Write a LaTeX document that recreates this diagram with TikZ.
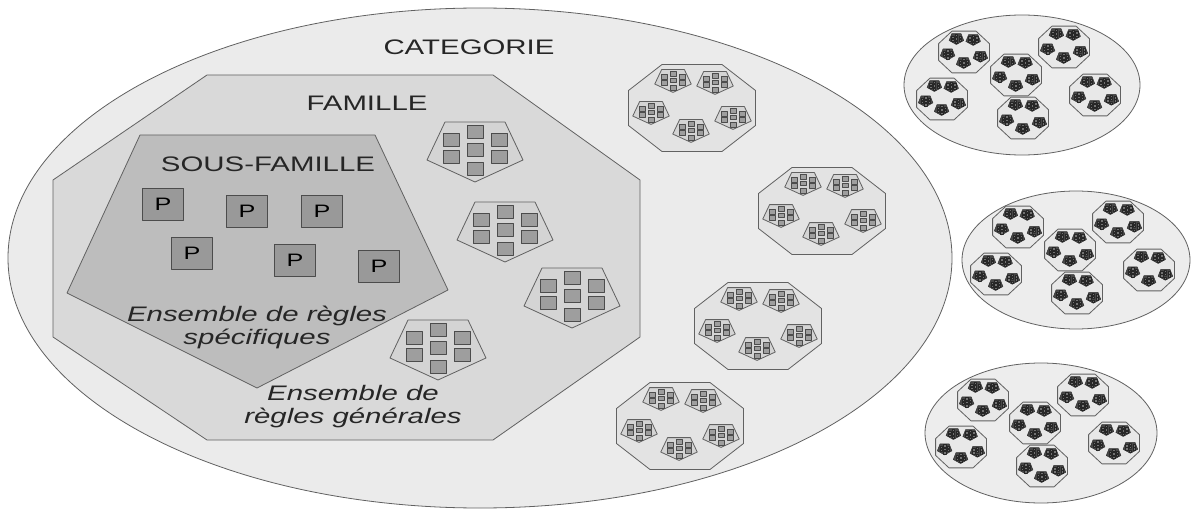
\documentclass[tikz,border=0pt]{standalone}
\usepackage{fontspec}
\setmainfont{Liberation Sans}[FakeStretch=1.4]

\tikzset{
    pics/regles/.style={code={
        \draw[regles fill] (-30,-30) -- (30,-30) -- (48,8) -- (0,30) -- (-48,8) -- cycle;
        \foreach \sx/\sy in {0/-20, -24/-12, 24/-12, 0/-2, -24/5, 24/5, 0/17}
            \draw[carre fill] (\sx-8,\sy-6.5) rectangle ++(16,13);
    }},
    pics/categorie/.style={code={
        \draw[octo fill] (-30,-43.5) -- (30,-43.5) -- (63.5,-17.5) -- (63.5,17.5)
            -- (30,43.5) -- (-30,43.5) -- (-63.5,17.5) -- (-63.5,-17.5) -- cycle;
        \foreach \sx/\sy in {-19/-27, 23/-25, -41/5, 41/10, -1/23}
            \pic[transform shape, scale=0.38, line width=0.5pt] at (\sx,\sy) {regles};
    }}
}

\begin{document}
\begin{tikzpicture}
    [x=1pt,y=-1pt,line join=round,
    % Styles
    outline/.style={draw=black!62, line width=0.8pt},
    categorie fill/.style={outline, fill=black!8},
    famille fill/.style={outline, fill=black!15},
    sousfamille fill/.style={outline, fill=black!26},
    regles fill/.style={outline, fill=black!17},
    carre fill/.style={draw=black!70, fill=black!38},
    octo fill/.style={outline, fill=black!11},
    produit box/.style={draw=black!70, line width=0.8pt, fill=black!40,
        minimum width=41pt, minimum height=32pt, inner sep=0pt,
        font=\fontsize{18}{20}\selectfont},
    title text/.style={text=black!85, inner sep=0pt, font=\fontsize{21}{23}\selectfont},
    rules text/.style={title text, align=center, font=\fontsize{21}{23}\selectfont\itshape}]

    \useasboundingbox (0,0) rectangle (1197,516);

    % Categorie
    \draw[categorie fill] (480,258) ellipse [x radius=472pt, y radius=250pt];
    \node[title text] (categorie) at (469,47) {CATEGORIE};

    % Famille
    \draw[famille fill] (207,75) -- (493,75) -- (640,180) -- (640,337)
        -- (493,440) -- (207,440) -- (53,337) -- (53,180) -- cycle;
    \node[title text] (famille) at (367,103) {FAMILLE};

    % Sous-famille
    \draw[sousfamille fill] (140,135) -- (375,135) -- (448,290) -- (257,388) -- (67,293) -- cycle;
    \node[title text] (sousfamille) at (268,164) {SOUS-FAMILLE};

    \foreach \x/\y [count=\n] in {163/204, 247/211, 322/211, 192/253, 295/260, 379/266}
        \node[produit box] (p\n) at (\x,\y) {P};

    \node[rules text] (specifiques) at (257,327) {Ensemble de règles\\spécifiques};
    \node[rules text] (generales) at (353,407) {Ensemble de\\règles générales};

    % Autres familles
    \foreach \x/\y in {475/152, 505/232, 572/298, 438/350}
        \pic at (\x,\y) {regles};

    % Autres categories
    \foreach \x/\y in {692/108, 822/211, 758/326, 680/426}
        \pic at (\x,\y) {categorie};

    % Autres groupes
    \begin{scope}[regles fill/.style={draw=black!80, line width=0.5pt, fill=black!72},
                  carre fill/.style={draw=black!85, line width=0.3pt, fill=black!55},
                  octo fill/.style={outline, fill=black!9}]
        \foreach \cx/\cy/\rx/\ry in {1022/85/118/70, 1076/260/114/69, 1041/433/116/70}
        {
            \draw[outline, fill=black!7] (\cx,\cy) ellipse [x radius=\rx pt, y radius=\ry pt];
            \begin{scope}[shift={(\cx,\cy)}]
                \foreach \dx/\dy in {-58/-33, 42/-38, -6/-10, -80/14, 1/33, 73/10}
                    \pic[xscale=0.4, yscale=0.48] at (\dx,\dy) {categorie};
            \end{scope}
        }
    \end{scope}

\end{tikzpicture}
\end{document}
